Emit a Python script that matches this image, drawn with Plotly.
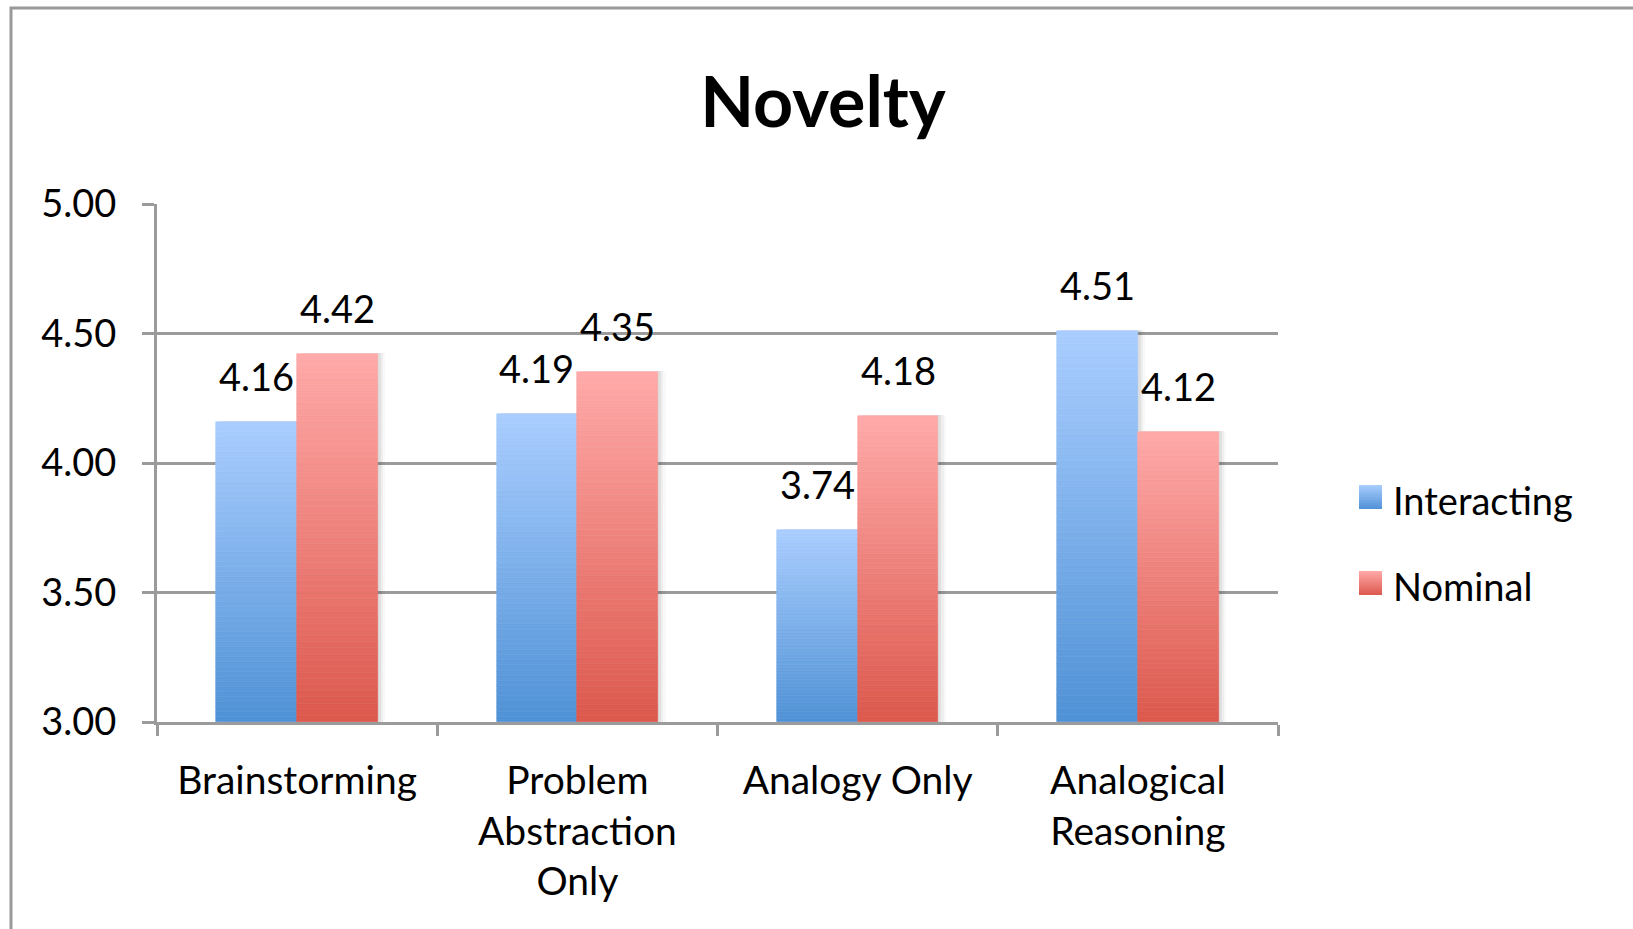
import plotly.graph_objects as go

# Novelty ratings per condition, two group types
categories = ["Brainstorming", "Problem<br>Abstraction<br>Only", "Analogy Only", "Analogical<br>Reasoning"]
interacting = [4.16, 4.19, 3.74, 4.51]
nominal = [4.42, 4.35, 4.18, 4.12]
series_names = ["Interacting", "Nominal"]
y_ticks = [3.0, 3.5, 4.0, 4.5, 5.0]
y_base = 3.0

# gradient endpoints (bottom, top) per series
BLUE = ((79, 146, 214), (170, 205, 255))
RED = ((220, 88, 77), (255, 170, 169))

FONT = "Lato"
GRID = "#9b9b9b"
N_STEPS = 60
BAR_W = 0.2885


def mix(c0, c1, t):
    return "rgb(%d,%d,%d)" % tuple(round(a + (b - a) * t) for a, b in zip(c0, c1))


fig = go.Figure()

x_idx = list(range(len(categories)))


def add_gradient_bars(values, grad, offset):
    # each bar is split into equal slices, bottom to top, shaded dark -> light
    for k in range(N_STEPS):
        col = mix(grad[0], grad[1], (k + 0.5) / N_STEPS)
        fig.add_trace(go.Bar(
            x=x_idx,
            y=[(v - y_base) / N_STEPS for v in values],
            base=[y_base + k * (v - y_base) / N_STEPS for v in values],
            width=BAR_W,
            offset=offset,
            marker=dict(color=col, line=dict(color=col, width=0.6)),
            showlegend=False,
            hoverinfo="skip",
        ))


# soft shadow on the right edge of each bar pair
for vals, off in ((interacting, -BAR_W), (nominal, 0.0)):
    for s, a in ((0.010, 0.06), (0.018, 0.04), (0.026, 0.025)):
        fig.add_trace(go.Bar(
            x=x_idx,
            y=[v - y_base + 0.004 for v in vals],
            base=y_base,
            width=BAR_W,
            offset=off + s,
            marker=dict(color="rgba(0,0,0,%.3f)" % a, line=dict(width=0)),
            showlegend=False,
            hoverinfo="skip",
        ))

add_gradient_bars(interacting, BLUE, -BAR_W)
add_gradient_bars(nominal, RED, 0.0)

annotations = []
for i in x_idx:
    for vals, off in ((interacting, -BAR_W / 2), (nominal, BAR_W / 2)):
        annotations.append(dict(
            x=i + off, y=vals[i], xref="x", yref="y",
            text="%.2f" % vals[i], showarrow=False,
            yanchor="middle", yshift=46,
            font=dict(family=FONT, size=38, color="black"),
        ))

# legend drawn beside the plot with gradient swatches
shapes = []
legend_rows = [(series_names[0], BLUE, 497), (series_names[1], RED, 583)]
plot_l, plot_r, plot_t, plot_b = 157, 1278, 204, 722
pw, ph = plot_r - plot_l, plot_b - plot_t


def px_x(px):
    return (px - plot_l) / pw


def px_y(py):
    return (plot_b - py) / ph


for name, grad, cy in legend_rows:
    steps = 12
    for k in range(steps):
        y0 = cy + 12 - k * 24 / steps
        y1 = cy + 12 - (k + 1) * 24 / steps
        col = mix(grad[0], grad[1], (k + 0.5) / steps)
        shapes.append(dict(type="rect", xref="paper", yref="paper",
                           x0=px_x(1359), x1=px_x(1382), y0=px_y(y0), y1=px_y(y1),
                           fillcolor=col, line=dict(width=0), layer="above"))
    annotations.append(dict(
        x=px_x(1391), y=px_y(cy + 3), xref="paper", yref="paper",
        text=name, showarrow=False, xanchor="left", yanchor="middle",
        font=dict(family=FONT, size=38, color="black"),
    ))

# outer chart frame
shapes.append(dict(type="rect", xref="paper", yref="paper",
                   x0=px_x(11), x1=px_x(1645), y0=px_y(8), y1=px_y(945),
                   line=dict(color="#9a9a9a", width=3), fillcolor="rgba(0,0,0,0)",
                   layer="below"))

fig.update_layout(
    width=1633, height=929,
    margin=dict(l=plot_l, r=1633 - plot_r, t=plot_t, b=929 - plot_b, pad=0),
    paper_bgcolor="white", plot_bgcolor="white",
    barmode="overlay", bargap=0, bargroupgap=0,
    showlegend=False,
    title=dict(text="<b>Novelty</b>", x=823 / 1633, xanchor="center",
               y=1 - 102 / 929, yanchor="middle",
               font=dict(family=FONT, size=70, color="black")),
    font=dict(family=FONT, size=38, color="black"),
    annotations=annotations,
    shapes=shapes,
)

fig.update_xaxes(
    type="linear",
    range=[-0.5, len(categories) - 0.5],
    tickmode="array", tickvals=x_idx, ticktext=categories,
    showgrid=False, zeroline=False,
    showline=True, linecolor=GRID, linewidth=3,
    ticks="", ticklabelstandoff=22,
    tickfont=dict(family=FONT, size=39, color="black"),
)

# boundary tick marks between categories via minor ticks
fig.update_xaxes(minor=dict(tickmode="array",
                            tickvals=[i - 0.5 for i in range(len(categories) + 1)],
                            ticks="outside", ticklen=11, tickwidth=3, tickcolor=GRID,
                            showgrid=False))

fig.update_yaxes(
    range=[y_base, 5.0],
    tickmode="array", tickvals=y_ticks, ticktext=["%.2f" % t for t in y_ticks],
    showgrid=True, gridcolor=GRID, gridwidth=3,
    zeroline=False,
    showline=True, linecolor=GRID, linewidth=3,
    ticks="outside", ticklen=12, tickwidth=3, tickcolor=GRID,
    ticklabelstandoff=18,
    tickfont=dict(family=FONT, size=38, color="black"),
)

fig.write_html("out.html")
